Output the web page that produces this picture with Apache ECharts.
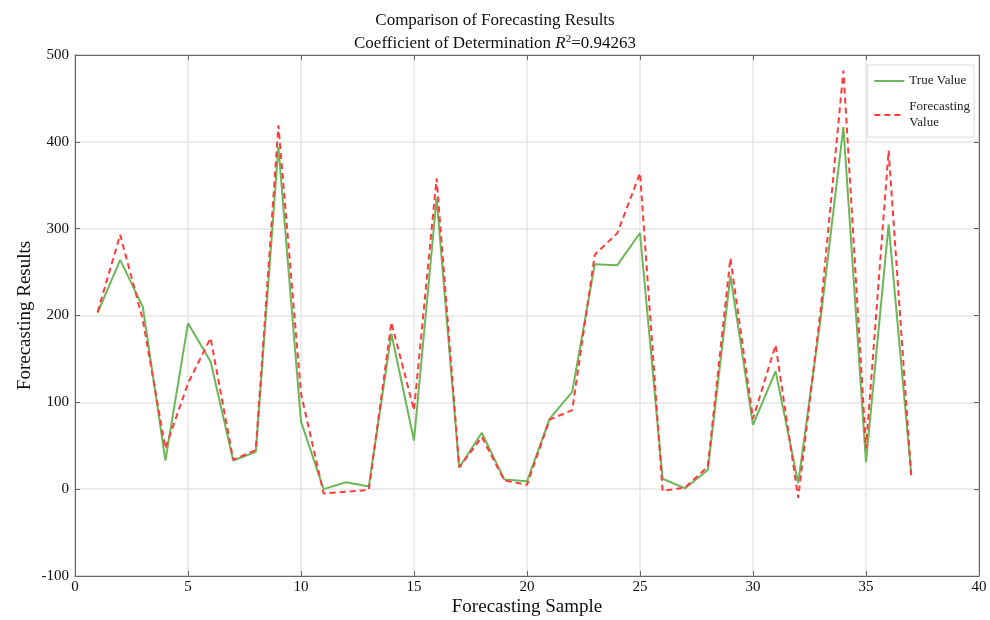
<!DOCTYPE html>
<html><head><meta charset="utf-8">
<script src="https://cdn.jsdelivr.net/npm/echarts@6/dist/echarts.min.js"></script>
<style>html,body{margin:0;padding:0;background:#fff}#c{width:990px;height:620px}</style>
</head><body><div id="c"></div>
<script>
const samples = [1,2,3,4,5,6,7,8,9,10,11,12,13,14,15,16,17,18,19,20,21,22,23,24,25,26,27,28,29,30,31,32,33,34,35,36,37];
const trueValues = [203,264,210,33,191,147,33,43,394,78,0,8,3,179,56,335,25,65,11,9,81,112,259,258,295,12,1,22,246,74,136,7,198,417,31,305,18];
const forecastValues = [204,293,195,47,122,174,34,45,419,110,-5,-3,-1,192,91,358,25,60,10,5,80,91,270,295,364,-2,2,26,266,81,166,-10,208,482,47,390,16];
const xTicks = {min:0,max:40,interval:5};
const yTicks = {min:-100,max:500,interval:100};

const font = 'Liberation Serif';
const chart = echarts.init(document.getElementById('c'));
const axisColor = '#666';
const gridColor = '#e6e6e6';
chart.setOption({
  backgroundColor:'#fff',
  animation:false,
  title:{
    left:'center', top:7, itemGap:5,
    text:'Comparison of Forecasting Results',
    subtext:'Coefficient of Determination {i|R}{s|2}=0.94263',
    textStyle:{fontFamily:font,fontSize:17,fontWeight:'normal',color:'#111'},
    subtextStyle:{fontFamily:font,fontSize:17,color:'#111',
      rich:{i:{fontFamily:font,fontSize:17,fontStyle:'italic',color:'#111'},
            s:{fontFamily:font,fontSize:11,color:'#111',verticalAlign:'top',padding:[0,0,8,0]}}}
  },
  grid:{left:75,right:11,top:55,bottom:44,show:true,borderColor:axisColor,borderWidth:1,
        containLabel:false,outerBoundsMode:'none'},
  legend:{
    right:16, top:65, orient:'vertical', itemWidth:30, itemHeight:12, itemGap:10,
    backgroundColor:'#fff', borderColor:'#ddd', borderWidth:1, padding:[8,4,6,6],
    itemStyle:{opacity:0},
    textStyle:{fontFamily:font,fontSize:13,color:'#222',lineHeight:16},
    formatter:function(n){return n==='Forecasting Value'?'Forecasting\nValue':n;},
    data:['True Value','Forecasting Value']
  },
  xAxis:[{
    type:'value', min:xTicks.min, max:xTicks.max, interval:xTicks.interval,
    name:'Forecasting Sample', nameLocation:'middle', nameGap:22, nameMoveOverlap:false,
    nameTextStyle:{fontFamily:font,fontSize:19,color:'#111'},
    axisLine:{onZero:false,lineStyle:{color:axisColor}},
    axisTick:{inside:true,length:5,lineStyle:{color:axisColor}},
    axisLabel:{fontFamily:font,fontSize:15,color:'#111',margin:4},
    splitLine:{show:true,lineStyle:{color:gridColor,width:1.5}}
  },{
    type:'value', position:'top', min:xTicks.min, max:xTicks.max, interval:xTicks.interval,
    axisLine:{onZero:false,lineStyle:{color:axisColor}},
    axisTick:{inside:true,length:5,lineStyle:{color:axisColor}},
    axisLabel:{show:false}, splitLine:{show:false}
  }],
  yAxis:[{
    type:'value', min:yTicks.min, max:yTicks.max, interval:yTicks.interval,
    name:'Forecasting Results', nameLocation:'middle', nameGap:40, nameMoveOverlap:false,
    nameTextStyle:{fontFamily:font,fontSize:19,color:'#111'},
    axisLine:{show:true,onZero:false,lineStyle:{color:axisColor}},
    axisTick:{show:true,inside:true,length:5,lineStyle:{color:axisColor}},
    axisLabel:{fontFamily:font,fontSize:15,color:'#111',margin:6},
    splitLine:{show:true,lineStyle:{color:gridColor,width:1.5}}
  },{
    type:'value', position:'right', min:yTicks.min, max:yTicks.max, interval:yTicks.interval,
    axisLine:{show:true,onZero:false,lineStyle:{color:axisColor}},
    axisTick:{show:true,inside:true,length:5,lineStyle:{color:axisColor}},
    axisLabel:{show:false}, splitLine:{show:false}
  }],
  series:[{
    name:'True Value', type:'line', symbol:'none',
    data:samples.map((x,i)=>[x,trueValues[i]]),
    lineStyle:{color:'#6cb858',width:2}, itemStyle:{color:'#6cb858'}, z:2
  },{
    name:'Forecasting Value', type:'line', symbol:'none',
    data:samples.map((x,i)=>[x,forecastValues[i]]),
    lineStyle:{color:'#ff3b3b',width:2,type:[6,4]}, itemStyle:{color:'#ff3b3b'}, z:3
  }]
});
</script></body></html>
